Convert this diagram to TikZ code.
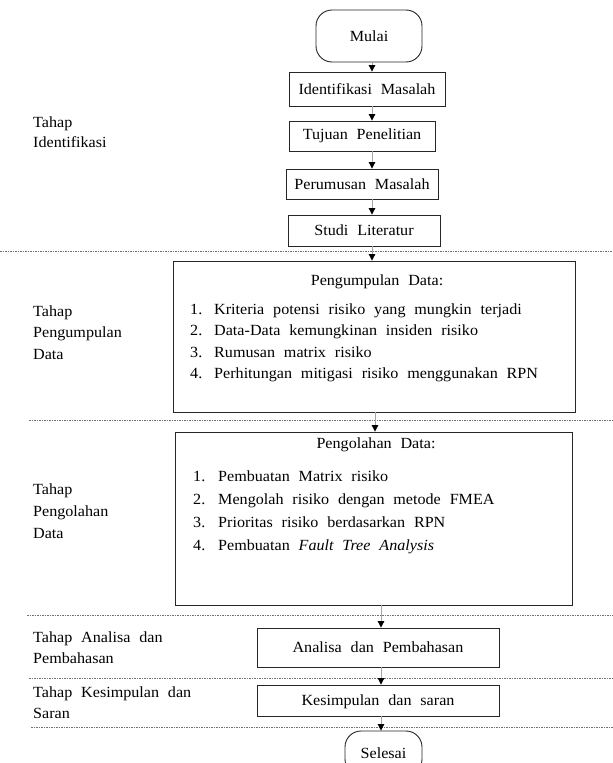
\documentclass[tikz,border=0pt]{standalone}
\usepackage{fontspec}
\setmainfont{Liberation Serif}[WordSpace=2.2,FakeStretch=1.04]
\usetikzlibrary{arrows.meta,positioning}
\definecolor{edge}{HTML}{262626}
\definecolor{wire}{HTML}{A6A6A6}
\definecolor{rule}{HTML}{707070}

\begin{document}
\begin{tikzpicture}[x=1pt,y=-1pt,font=\fontsize{15.5}{20}\selectfont,
  box/.style 2 args={draw=edge,line width=0.9pt,inner sep=0pt,minimum width=#1,minimum height=#2},
  term/.style={draw=edge,line width=0.9pt,rounded corners=16pt,inner sep=0pt,minimum width=#1},
  item/.style={anchor=west,inner sep=0pt,text height=10pt,text depth=3pt},
  tag/.style={anchor=west,inner sep=0pt,align=left},
  sep/.style={draw=rule,line width=0.7pt,dash pattern=on 1.5pt off 1pt},
  link/.style={draw=wire,line width=1pt,-{Triangle[length=6.5pt,width=6.5pt,color=black,fill=black]}}]
\useasboundingbox (0,0) rectangle (613,763);
% tahap identifikasi
\node[term=106pt,minimum height=52pt] (st) at (369,36) {Mulai};
\node[box={156pt}{34pt}] (id) at (367,89) {Identifikasi Masalah};
\node[box={146pt}{30pt}] (tj) at (362,136) {Tujuan Penelitian};
\node[box={152pt}{30pt}] (pm) at (362,184) {Perumusan Masalah};
\node[box={152pt}{31pt}] (sl) at (364,230.5) {Studi Literatur};
\node[tag,font=\fontsize{15.5}{20}\selectfont] (t1) at (33,132) {Tahap\\Identifikasi};
% tahap pengumpulan data
\node[box={402pt}{151pt}] (pd) at (374,336.5) {};
\node (pdt) at (377,282) {Pengumpulan Data:};
\node[item] (p1n) at (190,311) {1.};
\node[item] (p1) at (214,311) {Kriteria potensi risiko yang mungkin terjadi};
\node[item] (p2n) at (190,332) {2.};
\node[item] (p2) at (214,332) {Data-Data kemungkinan insiden risiko};
\node[item] (p3n) at (190,354) {3.};
\node[item] (p3) at (214,354) {Rumusan matrix risiko};
\node[item] (p4n) at (190,375) {4.};
\node[item] (p4) at (214,375) {Perhitungan mitigasi risiko menggunakan RPN};
\node[tag,font=\fontsize{15.5}{21.5}\selectfont] (t2) at (33,332.5) {Tahap\\Pengumpulan\\Data};
% tahap pengolahan data
\node[box={397pt}{173pt}] (po) at (373.5,518.5) {};
\node (pot) at (376,445) {Pengolahan Data:};
\node[item] (q1n) at (193,478) {1.};
\node[item] (q1) at (218,478) {Pembuatan Matrix risiko};
\node[item] (q2n) at (193,501) {2.};
\node[item] (q2) at (218,501) {Mengolah risiko dengan metode FMEA};
\node[item] (q3n) at (193,524) {3.};
\node[item] (q3) at (218,524) {Prioritas risiko berdasarkan RPN};
\node[item] (q4n) at (193,547) {4.};
\node[item] (q4) at (218,547) {Pembuatan \textit{Fault Tree Analysis}};
\node[tag,font=\fontsize{15.5}{22}\selectfont] (t3) at (33,511) {Tahap\\Pengolahan\\Data};
% analisa, kesimpulan, selesai
\node[box={242pt}{39pt}] (an) at (378,647.5) {Analisa dan Pembahasan};
\node[tag,font=\fontsize{15.5}{21}\selectfont] (t4) at (33,648) {Tahap Analisa dan\\Pembahasan};
\node[box={242pt}{31pt},text depth=-3pt] (ks) at (378,700.5) {Kesimpulan dan saran};
\node[tag,font=\fontsize{15.5}{21}\selectfont] (t5) at (33,703) {Tahap Kesimpulan dan\\Saran};
\node[term=77pt,minimum height=44pt] (en) at (383.5,753) {Selesai};
% garis pemisah tahap
\draw[sep] (0,251) -- (613,251);
\draw[sep] (29,420) -- (613,420);
\draw[sep] (27,615) -- (613,615);
\draw[sep] (29,678) -- (613,678);
\draw[sep] (31,727) -- (613,727);
% alur
\coordinate (ax) at (372,0);
\coordinate (bx) at (375,0);
\coordinate (cx) at (381,0);
\foreach \a/\b/\c in {st/id/ax,id/tj/ax,tj/pm/ax,pm/sl/ax,sl/pd/ax,pd/po/bx,po/an/cx,an/ks/cx,ks/en/cx}{\draw[link] (\a.south -| \c) -- (\b.north -| \c);}
\end{tikzpicture}
\end{document}
